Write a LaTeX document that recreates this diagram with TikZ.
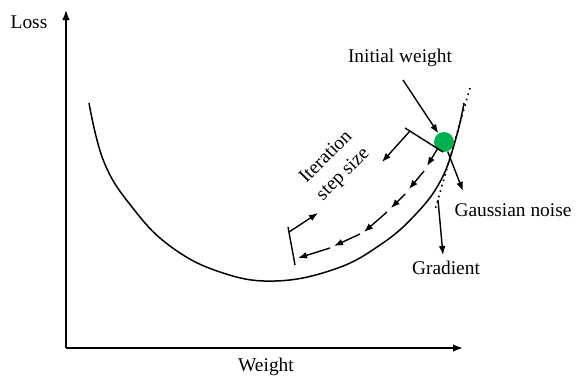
\documentclass[tikz,border=0pt]{standalone}
\usepackage{fontspec}
\setmainfont{Liberation Serif}
\usetikzlibrary{arrows.meta}
\definecolor{Dot_Green}{HTML}{00B050}

\begin{document}
\begin{tikzpicture}[x=0.5pt, y=-0.5pt,
  every node/.style={font=\rmfamily\fontsize{9.7}{12}\selectfont, inner sep=0pt},
  arr/.style={-{Latex[length=4.5pt, width=3.4pt]}, line width=0.7pt},
  axis/.style={-{Latex[length=5pt, width=3.8pt]}, line width=0.8pt},
  curve/.style={line width=0.75pt},
  tick/.style={line width=0.7pt}
]
  \useasboundingbox (0,0) rectangle (576,376);

  % Axes
  \coordinate (origin) at (66,348);
  \coordinate (ytip) at (66,10);
  \coordinate (xtip) at (463,348);
  \draw[axis] (origin) -- (ytip);
  \draw[axis] (origin) -- (xtip);
  \node (loss) at (29,22) {Loss};
  \node (weight) at (266,367) {Weight};

  % Loss curve
  \draw[curve] plot[smooth, tension=0.7] coordinates {
    (89,103) (104,162) (132,207) (170,246) (220,272) (275,281)
    (335,269) (380,245) (415,215) (441,180) (456,138) (464,103)};

  % Tangent
  \coordinate (tan-top) at (470,88);
  \coordinate (tan-bot) at (435,210);
  \draw[dotted, line width=0.8pt] (tan-top) -- (tan-bot);

  % Initial weight
  \node[circle, fill=Dot_Green, minimum size=10pt] (dot) at (444,142) {};
  \node (initw) at (400,58) {Initial weight};
  \coordinate (iw-start) at (403,80);
  \draw[arr] (iw-start) -- (dot);

  % Gaussian noise
  \node (noise) at (513,210) {Gaussian noise};
  \coordinate (gn-tip) at (463,191);
  \draw[arr] (dot) -- (gn-tip);

  % Gradient
  \node (grad) at (446,268) {Gradient};
  \coordinate (gr-start) at (438,200);
  \coordinate (gr-tip) at (443,255);
  \draw[arr] (gr-start) -- (gr-tip);

  % Steps along the curve
  \foreach \xa/\ya/\xb/\yb in {438/148/427/166, 424/171/409/189,
                               405/194/391/208, 387/212/364/232,
                               360/234/334/246, 330/248/298/258} {
    \draw[arr] (\xa,\ya) -- (\xb,\yb);
  }

  % Step size markers
  \coordinate (tk1-a) at (405,128);
  \coordinate (tk1-b) at (443,152);
  \coordinate (tk2-a) at (288,227);
  \coordinate (tk2-b) at (295,265);
  \draw[tick] (tk1-a) -- (tk1-b);
  \draw[tick] (tk2-a) -- (tk2-b);
  \node[rotate=45, align=center] (iter) at (335,166) {Iteration\\step size};
  \coordinate (st1-start) at (410,131);
  \coordinate (st1-tip) at (382,162);
  \coordinate (st2-start) at (289,232);
  \coordinate (st2-tip) at (318,213);
  \draw[arr] (st1-start) -- (st1-tip);
  \draw[arr] (st2-start) -- (st2-tip);
\end{tikzpicture}
\end{document}
